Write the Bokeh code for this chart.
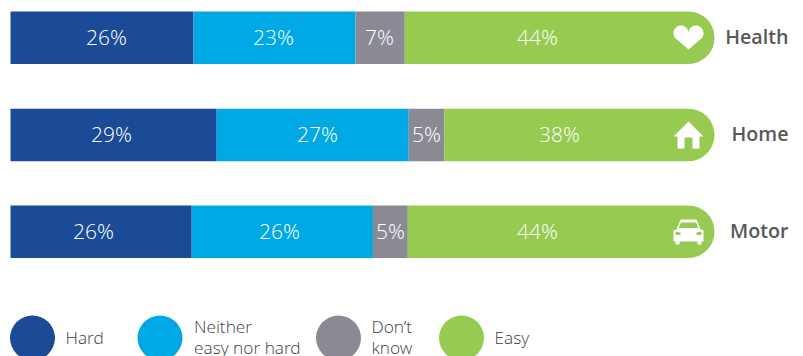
import numpy as np
from bokeh.core.properties import value
from bokeh.embed import file_html
from bokeh.models import Range1d
from bokeh.plotting import figure
from bokeh.resources import INLINE

# Survey shares per insurance line
products = ["Health", "Home", "Motor"]
hard = [26, 29, 26]
neither = [23, 27, 26]
dont_know = [7, 5, 5]
easy = [44, 38, 44]

answers = ["Hard", "Neither\neasy nor hard", "Don\u2019t\nknow", "Easy"]
colors = ["#1b4b97", "#00a9e4", "#898a94", "#96ca50"]

W, H = 803, 356
LEFT_PX, SPAN_PX = 10, 704          # bar start and full bar length on the page
ROW_Y = [37.2, 134.4, 231.2]
BAR_H = 52.5
UNIT = SPAN_PX / 100


def sx(px):
    """Page pixel to share units along the x range."""
    return (np.asarray(px, dtype=float) - LEFT_PX) / UNIT


p = figure(width=W, height=H, output_backend="svg", toolbar_location=None,
           x_range=Range1d(sx(0), sx(W)), y_range=Range1d(H, 0),
           min_border=0, outline_line_color=None, background_fill_color="white")
p.axis.visible = False
p.grid.visible = False

# Stacked bars: each row is rescaled to a full 100 because the rounded shares
# do not always add up to exactly 100.
rows = np.array([hard, neither, dont_know, easy], dtype=float)
shares = rows / rows.sum(axis=0) * 100
edges = np.vstack([np.zeros(3), np.cumsum(shares, axis=0)])

for i, color in enumerate(colors[:3]):
    p.hbar(y=ROW_Y, left=edges[i], right=edges[i + 1], height=BAR_H,
           color=color, line_color=None)
p.hbar(y=ROW_Y, left=edges[3], right=edges[4], height=BAR_H, color=colors[3],
       line_color=None, border_radius=(0, 26, 26, 0))

# Value labels
label_px = [[106, 273, 379, 537],
            [111, 317, 426, 559],
            [93, 279, 390, 537]]
for r in range(3):
    for c in range(4):
        p.text(x=[float(sx(label_px[r][c]))], y=[ROW_Y[r] - 1.2],
               text=[f"{int(rows[c][r])}%"], text_color="white",
               text_font=value("Open Sans Light"), text_font_size="21px",
               text_align="center", text_baseline="middle")

# Row names
name_right = [788, 788, 788]
p.text(x=[float(sx(v)) for v in name_right], y=[v - 1 for v in ROW_Y], text=products,
       text_color="#58595b", text_font=value("Open Sans SemiBold"),
       text_font_size="19.7px",
       text_align="right", text_baseline="middle")


def icon(points, color="white"):
    xs, ys = zip(*points)
    p.patch(sx(xs), ys, color=color, line_color=None)


# Heart
t = np.linspace(np.pi, 2 * np.pi * 0.98, 16)
heart = [(680.5 + 7.5 * np.cos(a), 32.6 + 7.6 * np.sin(a)) for a in t]
heart += [(695.5 + 7.5 * np.cos(a), 32.6 + 7.6 * np.sin(a)) for a in np.linspace(np.pi * 1.02, 2 * np.pi, 16)]
heart += [(703, 33.5), (702, 37), (688, 49), (674, 37), (673, 33.5)]
icon(heart)

# House
icon([(688, 121), (703, 136), (699, 136), (699, 148), (692, 148), (692, 137),
      (684, 137), (684, 148), (677, 148), (677, 136), (673, 136)])

# Car: body, then the windscreen and lamps cut out in the bar colour
icon([(680, 219), (696, 219), (700, 229), (703, 230), (703, 241), (701, 241),
      (701, 244), (697, 244), (697, 241), (679, 241), (679, 244), (675, 244),
      (675, 241), (673, 241), (673, 230), (676, 229)])
icon([(680.5, 222), (695.5, 222), (698, 227.5), (678, 227.5)], colors[3])
icon([(675, 231), (680, 232), (680, 234.5), (675, 234.5)], colors[3])
icon([(701, 231), (696, 232), (696, 234.5), (701, 234.5)], colors[3])

# Legend
legend_x = [32, 159.5, 338, 461]
legend_text_x = [65, 193.5, 371, 494]
LEGEND_Y = 337.5
for cx, tx, name, color in zip(legend_x, legend_text_x, answers, colors):
    p.scatter(x=[float(sx(cx))], y=[LEGEND_Y], size=45, marker="circle",
              color=color, line_color=None)
    lines = name.split("\n")
    ys = [LEGEND_Y - 0.8] if len(lines) == 1 else [326, 346.5]
    p.text(x=[float(sx(tx))] * len(lines), y=ys, text=lines,
           text_color="#404145", text_font=value("Open Sans Light"),
           text_font_size="17.3px", text_align="left", text_baseline="middle")

open("out.html", "w").write(file_html(p, INLINE))
